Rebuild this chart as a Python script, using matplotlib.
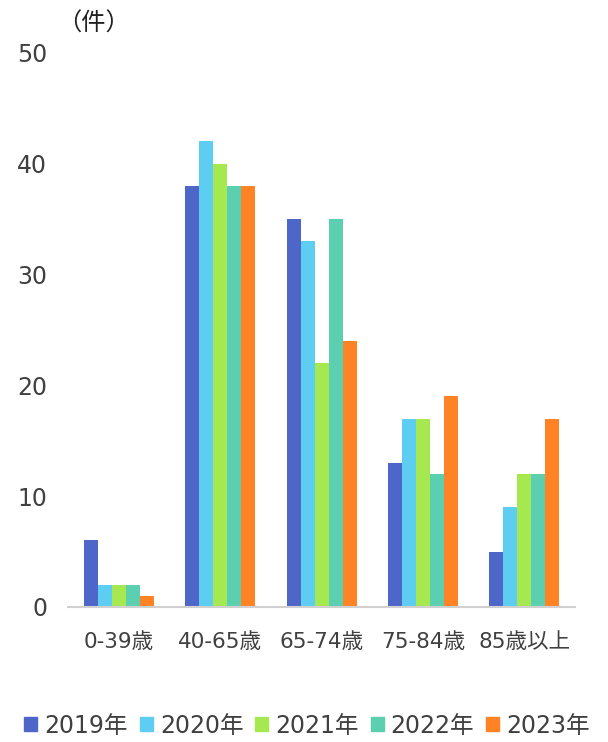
import numpy as np
import matplotlib.pyplot as plt
from matplotlib.patches import Patch

plt.rcParams['font.family'] = ['DejaVu Sans', 'Noto Sans CJK JP']

categories = ['0-39歳', '40-65歳', '65-74歳', '75-84歳', '85歳以上']
years = ['2019年', '2020年', '2021年', '2022年', '2023年']
v2019 = [6, 38, 35, 13, 5]
v2020 = [2, 42, 33, 17, 9]
v2021 = [2, 40, 22, 17, 12]
v2022 = [2, 38, 35, 12, 12]
v2023 = [1, 38, 24, 19, 17]
series = [v2019, v2020, v2021, v2022, v2023]
colors = ['#4F66C9', '#5ECDF2', '#A6E84F', '#5BCFB0', '#FF8224']

fig = plt.figure(figsize=(6.08, 7.42), dpi=100)
ax = fig.add_axes([0.112, 0.182, 0.834, 0.747])

x = np.arange(len(categories))
w = 0.138
for i, (vals, c) in enumerate(zip(series, colors)):
    ax.bar(x + (i - 2) * w, vals, width=w, color=c)

ax.set_xlim(-0.5, 4.5)
ax.set_ylim(0, 50)
ax.set_yticks([0, 10, 20, 30, 40, 50])
ax.set_xticks(x)
ax.set_xticklabels(categories, fontsize=15.5, color='#404040')
ax.tick_params(axis='y', labelsize=17, colors='#404040', length=0, pad=15)
ax.tick_params(axis='x', length=0, pad=18)
for s in ['top', 'right', 'left']:
    ax.spines[s].set_visible(False)
ax.spines['bottom'].set_color('#D0D0D0')
ax.spines['bottom'].set_linewidth(1.5)

fig.text(0.153, 0.968, '（件）', fontsize=17.5, color='#202020', ha='center', va='center')

handles = [Patch(color=c) for c in colors]
fig.legend(handles, years, loc='center', bbox_to_anchor=(0.505, 0.022), ncol=5,
           frameon=False, fontsize=17, handlelength=0.55, handleheight=0.55,
           handletextpad=0.3, columnspacing=0.5, labelcolor='#404040')

fig.savefig('out.png', dpi=100)
